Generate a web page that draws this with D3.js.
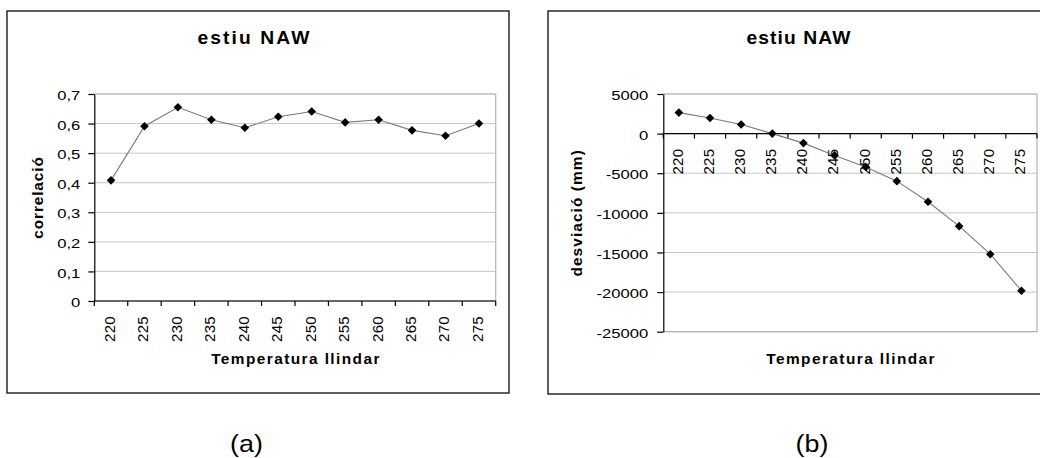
<!DOCTYPE html>
<html>
<head>
<meta charset="utf-8">
<script src="https://cdn.jsdelivr.net/npm/d3@7"></script>
<style>
  html, body { margin: 0; padding: 0; background: #fff; }
  svg { display: block; }
  text { font-family: "Liberation Sans", Arial, sans-serif; fill: #000; }
</style>
</head>
<body>
<svg id="fig" width="1040" height="458"></svg>
<script>
// Threshold temperatures (x categories)
const categories = ["220", "225", "230", "235", "240", "245", "250", "255", "260", "265", "270", "275"];

// Panel (a): correlation per threshold
const correlacio = [0.408, 0.591, 0.655, 0.613, 0.586, 0.623, 0.641, 0.604, 0.613, 0.577, 0.559, 0.600];
const correlacioTicks = [0, 0.1, 0.2, 0.3, 0.4, 0.5, 0.6, 0.7];

// Panel (b): deviation (mm) per threshold
const desviacio = [2650, 1980, 1150, 0, -1200, -2750, -4200, -6000, -8600, -11680, -15220, -19830];
const desviacioTicks = [5000, 0, -5000, -10000, -15000, -20000, -25000];

const titles = ["estiu NAW", "estiu NAW"];
const yTitles = ["correlació", "desviació (mm)"];
const xTitle = "Temperatura llindar";
const captions = ["(a)", "(b)"];

// horizontal widening of the tick label glyphs
const WIDE = 1.3;
// widening + tracking used for the bold titles
const BOLD_WIDE = 1.1;

const svg = d3.select("#fig");

function diamond(r) {
  return `M0,${-r}L${r},0L0,${r}L${-r},0Z`;
}

function drawPanel(opt) {
  const g = svg.append("g");

  // outer frame
  g.append("rect")
    .attr("x", opt.frame[0]).attr("y", opt.frame[1])
    .attr("width", opt.frame[2]).attr("height", opt.frame[3])
    .attr("fill", "none").attr("stroke", "#1a1a1a").attr("stroke-width", 1.4);

  const x = d3.scaleBand().domain(categories).range([opt.left, opt.right]).padding(0);
  const y = d3.scaleLinear().domain(opt.domain).range([opt.bottom, opt.top]);

  // horizontal gridlines
  g.append("g").selectAll("line").data(opt.ticks).join("line")
    .attr("x1", opt.left).attr("x2", opt.right)
    .attr("y1", d => y(d)).attr("y2", d => y(d))
    .attr("stroke", "#c6c6c6").attr("stroke-width", 1);

  // plot area border (top, right, bottom in grey)
  g.append("path")
    .attr("d", `M${opt.left},${opt.top}H${opt.right}V${opt.bottom}H${opt.left}`)
    .attr("fill", "none").attr("stroke", "#b4b4b4").attr("stroke-width", 1.2);

  // y axis
  const yAxis = d3.axisLeft(y)
    .tickValues(opt.ticks)
    .tickFormat(opt.fmt)
    .tickSize(6).tickSizeOuter(0).tickPadding(opt.tickPad);
  const ya = g.append("g").attr("transform", `translate(${opt.left},0)`).call(yAxis);
  ya.select(".domain").attr("stroke", "#000").attr("stroke-width", 1.2);
  ya.selectAll(".tick line").attr("stroke", "#000").attr("stroke-width", 1.2);
  ya.selectAll(".tick text")
    .attr("transform", function () { return `translate(${+this.getAttribute("x")},1) scale(${WIDE},1)`; })
    .attr("x", 0)
    .attr("font-size", 12.8)
    .attr("dy", "0.36em")
    .style("font-family", "Liberation Sans, Arial, sans-serif");

  // x axis line at the category baseline
  const xAxisY = y(opt.xAxisAt);
  g.append("line")
    .attr("x1", opt.left).attr("x2", opt.right)
    .attr("y1", xAxisY).attr("y2", xAxisY)
    .attr("stroke", "#000").attr("stroke-width", 1.2);

  // tick marks on band boundaries
  const bounds = categories.map(c => x(c)).concat([x(categories[categories.length - 1]) + x.bandwidth()]);
  g.append("g").selectAll("line").data(bounds).join("line")
    .attr("x1", d => d).attr("x2", d => d)
    .attr("y1", xAxisY).attr("y2", xAxisY + 5)
    .attr("stroke", "#000").attr("stroke-width", 1.2);

  // rotated category labels
  g.append("g").selectAll("text").data(categories).join("text")
    .attr("transform", d => `translate(${x(d) + x.bandwidth() / 2 - 1.5},${xAxisY + 15}) rotate(-90)`)
    .attr("text-anchor", "end")
    .attr("dy", "0.36em")
    .attr("font-size", 15)
    .attr("letter-spacing", "0.3px")
    .text(d => d);

  // series line
  const line = d3.line()
    .x((d, i) => x(categories[i]) + x.bandwidth() / 2)
    .y(d => y(d));
  g.append("path").datum(opt.values)
    .attr("d", line)
    .attr("fill", "none").attr("stroke", "#7a7a7a").attr("stroke-width", 1.1);

  // diamond markers
  g.append("g").selectAll("path").data(opt.values).join("path")
    .attr("transform", (d, i) => `translate(${x(categories[i]) + x.bandwidth() / 2},${y(d)})`)
    .attr("d", diamond(4.3))
    .attr("fill", "#000");

  // chart title
  g.append("text")
    .attr("transform", `translate(${opt.titleX},43.5) scale(${BOLD_WIDE},1)`)
    .attr("text-anchor", "middle")
    .attr("font-size", 17.5).attr("font-weight", "bold")
    .attr("letter-spacing", opt.titleSpacing)
    .text(opt.title);

  // y title (rotated, widened along its length)
  g.append("text")
    .attr("transform", `translate(${opt.yTitleX},${(opt.top + opt.bottom) / 2}) rotate(-90) scale(${BOLD_WIDE},1)`)
    .attr("text-anchor", "middle")
    .attr("dy", "0.35em")
    .attr("font-size", 14).attr("font-weight", "bold")
    .attr("letter-spacing", opt.yTitleSpacing)
    .text(opt.yTitle);

  // x title
  g.append("text")
    .attr("transform", `translate(${(opt.left + opt.right) / 2 + 1},364) scale(${BOLD_WIDE},1)`)
    .attr("text-anchor", "middle")
    .attr("font-size", 14).attr("font-weight", "bold")
    .attr("letter-spacing", "1.3px")
    .text(xTitle);

  // caption
  g.append("text")
    .attr("transform", `translate(${opt.captionX},452) scale(1.12,1)`)
    .attr("text-anchor", "middle")
    .attr("font-size", 24)
    .text(opt.caption);
}

drawPanel({
  frame: [7, 11, 502, 382],
  left: 94.3, right: 495.7, top: 94, bottom: 301,
  domain: [0, 0.7], ticks: correlacioTicks,
  fmt: d => d === 0 ? "0" : d3.format(".1f")(d).replace(".", ","),
  tickPad: 8,
  xAxisAt: 0,
  values: correlacio,
  title: titles[0], titleX: 254.5, titleSpacing: "1.9px",
  yTitle: yTitles[0], yTitleX: 37.8, yTitleSpacing: "0.8px",
  caption: captions[0], captionX: 246.5
});

drawPanel({
  frame: [548, 11, 510, 383],
  left: 663.3, right: 1037, top: 94, bottom: 331.7,
  domain: [-25000, 5000], ticks: desviacioTicks,
  fmt: d => String(d),
  tickPad: 9,
  xAxisAt: 0,
  values: desviacio,
  title: titles[1], titleX: 799, titleSpacing: "1px",
  yTitle: yTitles[1], yTitleX: 577, yTitleSpacing: "1px",
  caption: captions[1], captionX: 812
});
</script>
</body>
</html>
